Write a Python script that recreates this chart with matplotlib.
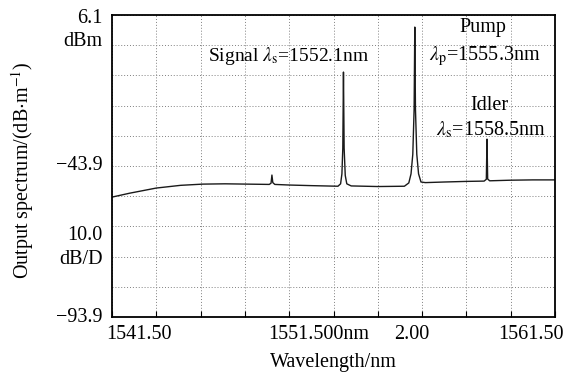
import matplotlib
matplotlib.use('Agg')
import matplotlib.pyplot as plt
import matplotlib.transforms as mtransforms

plt.rcParams['font.family'] = ['Liberation Serif', 'DejaVu Serif']
plt.rcParams['mathtext.fontset'] = 'stix'
plt.rcParams['font.size'] = 14.5

# spectrum (wavelength in nm, power in dBm)
wavelength = [
    1541.50, 1542.30, 1543.50, 1544.60, 1545.60, 1546.60, 1547.60, 1548.60,
    1548.68, 1548.72, 1548.76, 1548.85, 1549.50, 1550.50, 1551.70,
    1551.82, 1551.88, 1551.92, 1551.95, 1551.98, 1552.03, 1552.10, 1552.30,
    1553.50, 1554.70, 1554.90, 1555.00, 1555.08, 1555.14, 1555.17, 1555.20,
    1555.26, 1555.34, 1555.45, 1555.65, 1556.50, 1557.50, 1558.30,
    1558.40, 1558.43, 1558.46, 1558.55, 1559.50, 1560.50, 1561.50,
]
power = [
    -54.2, -52.9, -51.2, -50.3, -49.9, -49.8, -49.9, -50.0,
    -49.6, -46.9, -49.4, -50.0, -50.2, -50.4, -50.6,
    -49.8, -46.5, -38.0, -12.8, -38.0, -47.0, -49.8, -50.5,
    -50.7, -50.6, -49.5, -46.5, -40.0, -25.0, 2.1, -25.0,
    -40.0, -46.5, -49.2, -49.4, -49.2, -49.0, -48.9,
    -48.3, -35.0, -48.2, -48.8, -48.6, -48.5, -48.5,
]

x_start, x_stop = 1541.5, 1561.5
y_top, y_bottom = 6.1, -93.9
x_grid = [1541.5 + 2 * k for k in range(11)]
y_grid = [round(y_bottom + 10 * k, 1) for k in range(11)]

# screen labels of the analyser
y_labels = ['6.1', 'dBm', '\u221243.9', '10.0', 'dB/D', '\u221293.9']
y_label_pos = [5.0, -2.8, -43.9, -67.0, -75.0, -93.9]
x_labels = ['1541.50', '1551.500nm', '2.00', '1561.50']
x_label_pos = [-0.014, 0.467, 0.677, 1.020]
x_label_ha = ['left', 'center', 'center', 'right']

fig = plt.figure(figsize=(5.79, 3.79), dpi=100)
ax = fig.add_axes([112 / 579, 62 / 379, 443 / 579, 302 / 379])

ax.plot(wavelength, power, color='#1a1a1a', lw=1.0)

ax.set_xlim(x_start, x_stop)
ax.set_ylim(y_bottom, y_top)
ax.set_xticks(x_grid)
ax.set_yticks(y_grid)
ax.set_xticklabels([])
ax.set_yticklabels([])
ax.tick_params(axis='x', direction='in', length=4, width=0.8, top=False)
ax.tick_params(axis='y', length=0)
ax.grid(True, color='#808080', linestyle=(0, (1, 2)), lw=0.7)
for s in ax.spines.values():
    s.set_linewidth(1.3)

ytrans = mtransforms.blended_transform_factory(ax.transAxes, ax.transData)
for lab, yv in zip(y_labels, y_label_pos):
    ax.text(-0.022, yv, lab, ha='right', va='center', transform=ytrans)
for lab, xf, ha in zip(x_labels, x_label_pos, x_label_ha):
    ax.text(xf, -0.058, lab, ha=ha, va='center', transform=ax.transAxes)

fig.text(333 / 579, 1 - 362 / 379, 'Wavelength/nm', ha='center', va='center')
fig.text(23 / 579, 1 - 170 / 379, r'Output spectrum/(dB$\cdot$m$^{-1}$)',
         ha='center', va='center', rotation=90)

# peak annotations
ax.text(1545.85, -7.4, r'Signal $\lambda_{\rm s}$=1552.1nm', ha='left', va='center',
        fontsize=14)
ax.text(1558.25, 2.0, 'Pump', ha='center', va='center')
ax.text(1558.35, -7.5, r'$\lambda_{\rm p}$=1555.3nm', ha='center', va='center')
ax.text(1558.55, -23.8, 'Idler', ha='center', va='center')
ax.text(1558.6, -31.8, r'$\lambda_{\rm s}$=1558.5nm', ha='center', va='center')

fig.savefig('out.png', dpi=100)
